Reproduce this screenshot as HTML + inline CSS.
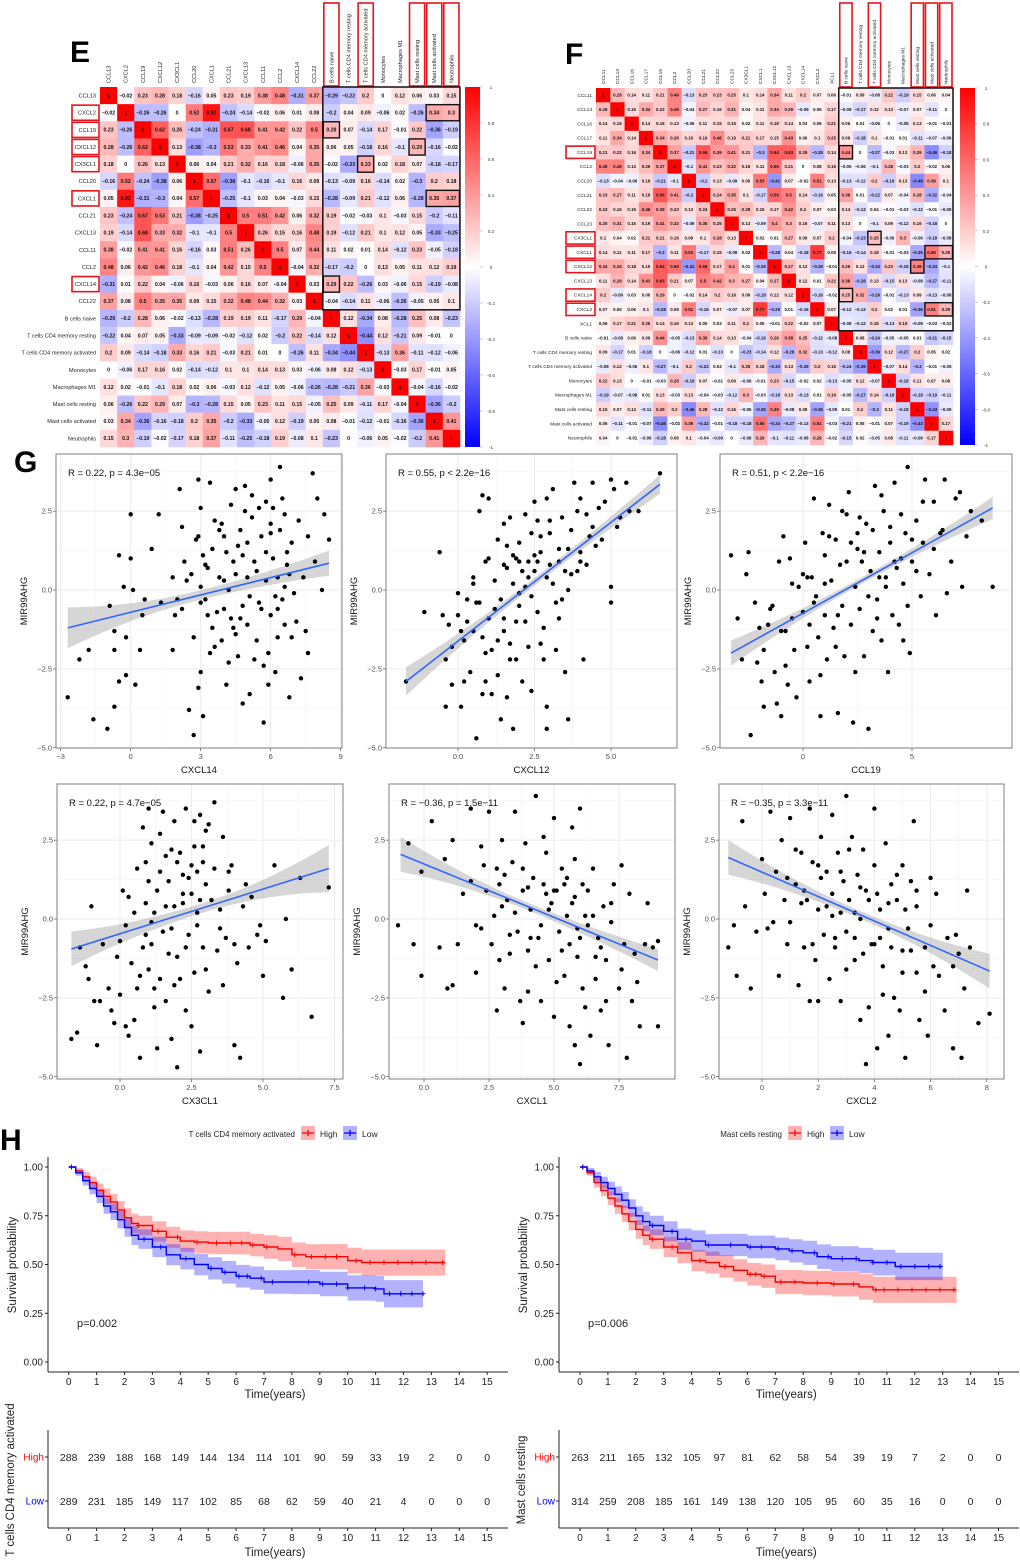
<!DOCTYPE html>
<html><head><meta charset="utf-8"><style>
html,body{margin:0;padding:0;background:#fff}
svg{display:block;font-family:"Liberation Sans",Arial,sans-serif}
</style></head><body>
<svg id="fig" width="1020" height="1563" viewBox="0 0 1020 1563" xmlns="http://www.w3.org/2000/svg">
<defs>
<linearGradient id="cbar" x1="0" y1="0" x2="0" y2="1">
<stop offset="0" stop-color="#ff0000"/><stop offset="0.5" stop-color="#ffffff"/><stop offset="1" stop-color="#0000ff"/>
</linearGradient>
</defs>
<text x="70" y="62" font-size="30" font-weight="bold">E</text>
<text x="565" y="64" font-size="30" font-weight="bold">F</text>
<text x="14" y="472" font-size="30" font-weight="bold">G</text>
<text x="0" y="1150" font-size="30" font-weight="bold">H</text>
<g id="heatE"></g>
<g id="heatF"></g>
<g id="scat"></g>
<g id="surv"></g>
</svg>
<script>
// ===== Heatmap E data =====
const eLabels=["CCL13","CXCL2","CCL19","CXCL12","CX3CL1","CCL20","CXCL1","CCL21","CXCL13","CCL11","CCL2","CXCL14","CCL22","B cells naive","T cells CD4 memory resting","T cells CD4 memory activated","Monocytes","Macrophages M1","Mast cells resting","Mast cells activated","Neutrophils"];
const eValues=[
[1,-0.02,0.23,0.28,0.18,-0.16,0.05,0.23,0.19,0.38,0.48,-0.31,0.37,-0.29,-0.22,0.2,0,0.12,0.06,0.03,0.15],
[-0.02,1,-0.26,-0.26,0,0.52,0.92,-0.24,-0.14,-0.02,0.06,0.01,0.08,-0.2,0.04,0.09,-0.06,0.02,-0.26,0.34,0.3],
[0.23,-0.26,1,0.62,0.26,-0.24,-0.31,0.67,0.68,0.41,0.42,0.22,0.5,0.28,0.07,-0.14,0.17,-0.01,0.22,-0.36,-0.19],
[0.28,-0.26,0.62,1,0.13,-0.38,-0.3,0.53,0.33,0.41,0.46,0.04,0.35,0.06,0.05,-0.18,0.16,-0.1,0.29,-0.16,-0.02],
[0.18,0,0.26,0.13,1,0.06,0.04,0.21,0.32,0.16,0.18,-0.06,0.35,-0.02,-0.33,0.33,0.02,0.18,0.07,-0.18,-0.17],
[-0.16,0.52,-0.24,-0.38,0.06,1,0.57,-0.38,-0.1,-0.16,-0.1,0.16,0.09,-0.13,-0.09,0.16,-0.14,0.02,-0.3,0.2,0.18],
[0.05,0.92,-0.31,-0.3,0.04,0.57,1,-0.25,-0.1,0.03,0.04,-0.03,0.15,-0.28,-0.09,0.21,-0.12,0.06,-0.28,0.35,0.37],
[0.23,-0.24,0.67,0.53,0.21,-0.38,-0.25,1,0.5,0.51,0.42,0.06,0.32,0.19,-0.02,-0.03,0.1,-0.03,0.15,-0.2,-0.11],
[0.19,-0.14,0.68,0.33,0.32,-0.1,-0.1,0.5,1,0.26,0.15,0.16,0.48,0.19,-0.12,0.21,0.1,0.12,0.05,-0.33,-0.25],
[0.38,-0.02,0.41,0.41,0.16,-0.16,0.03,0.51,0.26,1,0.5,0.07,0.44,0.11,0.02,0.01,0.14,-0.12,0.23,-0.05,-0.18],
[0.48,0.06,0.42,0.46,0.18,-0.1,0.04,0.42,0.15,0.5,1,-0.04,0.32,-0.17,-0.2,0,0.13,0.05,0.11,0.12,0.19],
[-0.31,0.01,0.22,0.04,-0.06,0.16,-0.03,0.06,0.16,0.07,-0.04,1,0.03,0.29,0.22,-0.26,0.03,-0.06,0.15,-0.19,-0.08],
[0.37,0.08,0.5,0.35,0.35,0.09,0.15,0.32,0.48,0.44,0.32,0.03,1,-0.04,-0.14,0.11,-0.06,-0.26,-0.05,0.05,0.1],
[-0.29,-0.2,0.28,0.06,-0.02,-0.13,-0.28,0.19,0.19,0.11,-0.17,0.29,-0.04,1,0.12,-0.34,0.08,-0.28,0.25,0.08,-0.23],
[-0.22,0.04,0.07,0.05,-0.33,-0.09,-0.09,-0.02,-0.12,0.02,-0.2,0.22,-0.14,0.12,1,-0.44,0.12,-0.21,0.09,-0.01,0],
[0.2,0.09,-0.14,-0.18,0.33,0.16,0.21,-0.03,0.21,0.01,0,-0.26,0.11,-0.34,-0.44,1,-0.13,0.36,-0.11,-0.12,-0.06],
[0,-0.06,0.17,0.16,0.02,-0.14,-0.12,0.1,0.1,0.14,0.13,0.03,-0.06,0.08,0.12,-0.13,1,-0.03,0.17,-0.01,0.05],
[0.12,0.02,-0.01,-0.1,0.18,0.02,0.06,-0.03,0.12,-0.12,0.05,-0.06,-0.26,-0.28,-0.21,0.36,-0.03,1,-0.04,-0.16,-0.02],
[0.06,-0.26,0.22,0.29,0.07,-0.3,-0.28,0.15,0.05,0.23,0.11,0.15,-0.05,0.25,0.09,-0.11,0.17,-0.04,1,-0.36,-0.2],
[0.03,0.34,-0.36,-0.16,-0.18,0.2,0.35,-0.2,-0.33,-0.05,0.12,-0.19,0.05,0.08,-0.01,-0.12,-0.01,-0.16,-0.36,1,0.41],
[0.15,0.3,-0.19,-0.02,-0.17,0.18,0.37,-0.11,-0.25,-0.18,0.19,-0.08,0.1,-0.23,0,-0.06,0.05,-0.02,-0.2,0.41,1]];
const eRowBoxes=[1,2,3,4,6,11];
const eColBoxes=[13,15,18,19,20];
const eCellBoxes=[[2,13,1],[3,18,1],[4,15,1],[1,19,2],[6,19,2],[11,13,1]];
// ===== Heatmap F data =====
const fLabels=["CCL11","CCL13","CCL16","CCL17","CCL19","CCL2","CCL20","CCL21","CCL22","CCL23","CX3CL1","CXCL1","CXCL12","CXCL13","CXCL14","CXCL2","XCL1","B cells naive","T cells CD4 memory resting","T cells CD4 memory activated","Monocytes","Macrophages M1","Mast cells resting","Mast cells activated","Neutrophils"];
const fValues=[
[1,0.28,0.14,0.11,0.21,0.49,-0.13,0.23,0.23,0.25,0.1,0.14,0.34,0.11,0.2,0.07,0.06,-0.01,0.09,-0.08,0.22,-0.19,0.15,0.06,0.04],
[0.28,1,0.15,0.34,0.22,0.49,-0.04,0.27,0.16,0.31,0.04,0.11,0.34,0.29,-0.09,0.05,0.17,-0.08,-0.17,0.12,0.13,-0.07,0.07,-0.11,0],
[0.14,0.15,1,0.14,0.16,0.13,-0.06,0.11,0.15,0.15,0.02,0.11,0.18,0.14,0.03,0.06,0.21,0.06,0.01,-0.06,0,-0.08,0.13,-0.01,-0.01],
[0.11,0.34,0.14,1,0.34,0.26,0.16,0.19,0.46,0.19,0.21,0.17,0.15,0.43,0.06,0.1,0.25,0.09,-0.18,0.1,-0.01,0.01,-0.11,-0.07,-0.06],
[0.21,0.22,0.16,0.34,1,0.37,-0.21,0.66,0.39,0.41,0.21,-0.3,0.64,0.63,0.29,-0.28,0.14,0.44,0,-0.27,-0.03,0.13,0.29,-0.46,-0.18],
[0.49,0.49,0.13,0.26,0.37,1,-0.1,0.41,0.23,0.32,0.16,0.11,0.56,0.21,0,0.08,0.16,-0.05,-0.06,-0.1,0.28,-0.03,0.2,-0.02,0.06],
[-0.13,-0.04,-0.06,0.16,-0.21,-0.1,1,-0.2,0.13,-0.09,0.09,0.53,-0.41,0.07,-0.02,0.51,0.13,-0.13,-0.12,0.2,-0.19,0.13,-0.46,0.39,0.1],
[0.23,0.27,0.11,0.19,0.66,0.41,-0.2,1,0.24,0.35,0.1,-0.17,0.59,0.5,0.14,-0.16,0.05,0.36,0.01,-0.22,0.07,-0.04,0.28,-0.32,-0.04],
[0.23,0.16,0.15,0.46,0.39,0.23,0.13,0.24,1,0.25,0.28,0.15,0.17,0.42,0.2,0.07,0.03,0.14,-0.13,0.04,-0.01,-0.03,-0.12,-0.01,-0.09],
[0.25,0.31,0.15,0.19,0.41,0.32,-0.09,0.35,0.25,1,0.13,-0.09,0.4,0.3,0.16,-0.07,0.11,0.13,0,-0.1,0.09,-0.12,0.16,-0.18,0],
[0.1,0.04,0.02,0.21,0.21,0.16,0.09,0.1,0.28,0.13,1,0.02,0.01,0.27,0.09,0.07,0.2,-0.04,-0.23,0.25,-0.06,0.3,-0.06,-0.18,-0.08],
[0.14,0.11,0.11,0.17,-0.3,0.11,0.53,-0.17,0.15,-0.09,0.02,1,-0.28,0.04,-0.18,0.77,0.05,-0.16,-0.14,0.18,-0.01,-0.03,-0.35,0.55,0.29],
[0.34,0.34,0.18,0.15,0.64,0.56,-0.41,0.59,0.17,0.4,0.01,-0.28,1,0.27,0.12,-0.29,-0.01,0.26,0.12,-0.33,0.23,-0.18,0.49,-0.34,-0.1],
[0.11,0.29,0.14,0.43,0.63,0.21,0.07,0.5,0.42,0.3,0.27,0.04,0.27,1,0.12,0.01,0.22,0.38,-0.28,0.13,-0.15,0.13,-0.08,-0.27,-0.11],
[0.2,-0.09,0.03,0.06,0.29,0,-0.02,0.14,0.2,0.16,0.09,-0.18,0.12,0.12,1,-0.16,-0.02,0.25,0.32,-0.29,-0.02,-0.13,0.09,-0.13,-0.08],
[0.07,0.05,0.06,0.1,-0.28,0.08,0.51,-0.16,0.07,-0.07,0.07,0.77,-0.29,0.01,-0.16,1,0.07,-0.12,-0.13,0.2,0.02,0.01,-0.36,0.51,0.29],
[0.06,0.17,0.21,0.25,0.14,0.16,0.13,0.05,0.03,0.11,0.2,0.05,-0.01,0.22,-0.02,0.07,1,-0.08,-0.12,0.15,-0.13,0.19,-0.09,-0.03,-0.02],
[-0.01,-0.08,0.06,0.09,0.44,-0.05,-0.13,0.36,0.14,0.13,-0.04,-0.16,0.26,0.38,0.25,-0.12,-0.08,1,0.08,-0.24,-0.05,-0.05,0.01,-0.21,-0.15],
[0.09,-0.17,0.01,-0.18,0,-0.06,-0.12,0.01,-0.13,0,-0.23,-0.14,0.12,-0.28,0.32,-0.13,-0.12,0.08,1,-0.39,0.12,-0.27,0.2,0.05,0.02],
[-0.08,0.12,-0.06,0.1,-0.27,-0.1,0.2,-0.22,0.04,-0.1,0.25,0.18,-0.33,0.13,-0.29,0.2,0.15,-0.24,-0.39,1,-0.07,0.14,-0.3,-0.01,-0.05],
[0.22,0.13,0,-0.01,-0.03,0.28,-0.19,0.07,-0.01,0.09,-0.06,-0.01,0.23,-0.15,-0.02,0.02,-0.13,-0.05,0.12,-0.07,1,-0.18,0.11,0.07,0.08],
[-0.19,-0.07,-0.08,0.01,0.13,-0.03,0.13,-0.04,-0.03,-0.12,0.3,-0.03,-0.18,0.13,-0.13,0.01,0.19,-0.05,-0.27,0.14,-0.18,1,-0.18,-0.19,-0.11],
[0.15,0.07,0.13,-0.11,0.29,0.2,-0.46,0.28,-0.12,0.16,-0.06,-0.35,0.49,-0.08,0.09,-0.36,-0.09,0.01,0.2,-0.3,0.11,-0.18,1,-0.43,-0.09],
[0.06,-0.11,-0.01,-0.07,-0.46,-0.02,0.39,-0.32,-0.01,-0.18,-0.18,0.55,-0.34,-0.27,-0.13,0.51,-0.03,-0.21,0.05,-0.01,0.07,-0.19,-0.43,1,0.17],
[0.04,0,-0.01,-0.06,-0.18,0.06,0.1,-0.04,-0.09,0,-0.08,0.29,-0.1,-0.11,-0.08,0.29,-0.02,-0.15,0.02,-0.05,0.08,-0.11,-0.09,0.17,1]];
const fRowBoxes=[4,10,11,12,14,15];
const fColBoxes=[17,19,22,23,24];
const fCellBoxes=[[4,17,1],[10,19,1],[11,23,2],[12,22,1],[14,17,1],[15,23,2]];
const cbarTicks=["1","0.8","0.6","0.4","0.2","0","-0.2","-0.4","-0.6","-0.8","-1"];

// ===== Scatter data =====
const sNames=["CXCL14","CXCL12","CCL19","CX3CL1","CXCL1","CXCL2"];
const sStats=["R = 0.22, p = 4.3e\u221205","R = 0.55, p < 2.2e\u221216","R = 0.51, p < 2.2e\u221216","R = 0.22, p = 4.7e\u221205","R = \u22120.36, p = 1.5e\u221211","R = \u22120.35, p = 3.3e\u221211"];
const s1x=[-2.7,-2.2,-1.8,-1.6,-1,-0.9,-0.7,-0.7,-0.7,-0.5,-0.5,-0.3,-0.2,-0.2,0,0,0.1,0.2,0.4,0.5,0.6,0.9,1.2,1.3,1.8,1.8,1.9,2,2.1,2.2,2.3,2.5,2.6,2.7,2.7,2.8,2.9,2.9,3,3,3,3.1,3.2,3.3,3.4,3.5,3.6,3.8,3.9,4,4.1,4.2,4.3,4.4,4.5,4.5,4.6,4.7,4.8,4.9,5,5,5.1,5.2,5.3,5.4,5.5,5.5,5.6,5.7,5.8,5.9,6,6,6,6.1,6.2,6.3,6.4,6.5,6.6,6.6,6.7,6.8,6.9,7,7.2,7.3,7.4,7.6,7.6,7.8,8,8.2,8.3,8.5,5.2,4.2,3.7,6.3,5.8,4.8,3.1,6.5,4];
const s1y=[-3.4,-2.2,-1.9,-4.1,-4.4,-0.5,-1.9,-3.7,-1.3,1.1,-2.9,0.1,-1.5,-2.7,2.4,1,0,-3,-1.9,-0.8,-0.3,1.3,2.4,-0.4,0.4,-1.9,-0.8,-0.3,3.2,2,0.9,-3.8,0.5,-1.5,-4.6,1.6,3.5,-3.1,2.6,-2.6,0.1,1.1,-0.3,-0.8,3.4,1.3,-1.8,0.4,2.1,-0.6,1.2,-2.3,2.7,-1.2,3.2,0.5,-2.1,1.9,-0.5,3.3,-1.1,1.5,-3.3,2.3,0.9,-1.6,2.6,-0.4,1.7,-4.2,0.3,-2,3.5,2.1,-0.8,1,-2.6,0.4,3.9,-0.3,2.4,-1.1,0.8,-3.4,1.5,-0.1,2.2,-2.8,0.4,1.7,-2,3.7,2.9,0,2.4,1.6,3,0,-0.7,-1.5,1.2,-3.6,-4,2.9,1.7];
const s1xb=[3.2,3.5,3.8,4.0,4.3,4.6,4.9,5.1,5.4,5.7,6.0,6.3,6.6,6.9,3.4,3.9,4.4,4.8,5.3,5.8,6.2,6.7,7.1,3.6,4.1,4.7,5.0,5.6,6.1,6.8,2.4,2.9,3.3,4.5,5.9,6.4,7.5,7.9,2.2,3.0];
const s1yb=[0.8,-1.2,1.9,0.3,-0.9,1.4,2.5,-0.2,0.6,-2.4,1.8,-0.6,0.1,-1.5,-2.0,-1.6,0.9,1.1,-2.2,2.8,-0.2,1.2,-1.0,2.2,-3.0,-0.9,0.4,-0.6,2.6,0.5,0.3,1.7,0.7,-1.4,-3.0,1.9,-1.3,0.9,-0.6,-0.4];
const s2x=[-1.7,-1.1,-0.6,-0.5,-0.4,-0.4,-0.3,-0.2,-0.2,0,0,0.1,0.2,0.2,0.3,0.4,0.5,0.5,0.6,0.7,0.7,0.8,0.8,0.9,0.9,1,1,1.1,1.1,1.2,1.3,1.3,1.4,1.4,1.5,1.5,1.5,1.6,1.7,1.7,1.8,1.8,1.9,1.9,2,2,2.1,2.2,2.2,2.3,2.4,2.4,2.5,2.5,2.6,2.7,2.8,2.9,2.9,2.9,3,3,3.1,3.2,3.3,3.4,3.5,3.6,3.6,3.7,3.8,3.9,4,4.1,4.2,4.3,4.4,4.5,4.6,4.7,5,5,5,5.1,5.3,5.5,5.6,5.9,6.6,5.2,3.3,2.6,1.6,2,4,3.1,2.8,2.3];
const s2y=[-2.9,-0.7,1.2,-0.8,-2.2,-3.7,-1.1,-1.8,-3,-0.8,-0.1,-3.7,-1.6,-2.9,-0.3,-2.6,0.4,-1.3,-4.7,-0.4,2.5,3,-1.5,0.9,-2.9,2.9,-0.9,-3.3,-1.9,0.3,1.6,-2.7,-4.1,-0.3,2.1,0.8,-1.3,-3.4,2.3,-2.2,0.2,-4.4,1,-1,1.5,-0.5,-2.9,2.4,0.1,-1.8,1.8,-3.2,0.6,2.8,-0.7,1.2,-1.2,0.4,-4.4,-3.7,2.2,1.8,3.2,-1.9,0.9,2.3,-2.6,1.3,-4.1,0.5,3.4,2.5,1.2,-2.2,0.8,1.7,3.4,1.4,2.6,1.6,3.5,0.1,-0.4,3.2,2.3,3.4,2.5,2.5,3.7,2,-0.9,0.9,0.7,-0.1,2.9,0.2,-2.2,0.9];
const s2xb=[0.3,0.6,0.9,1.2,1.5,1.8,2.1,2.4,2.7,3.0,3.3,3.6,3.9,4.2,0.5,1.0,1.6,2.2,2.6,3.2,3.7,4.4,1.3,1.9,2.5,2.9,3.4,4.0,0.1,0.8,1.7,2.3,3.5,4.8,2.0,2.7];
const s2yb=[-1.0,-0.4,-2.0,-0.6,-0.9,1.1,0.6,-0.2,1.7,0.8,1.3,0.0,0.6,2.4,0.2,1.0,1.4,-1.0,2.2,-0.4,1.9,2.0,-1.6,-2.2,1.1,2.9,-0.3,0.9,-1.3,-3.3,-1.7,0.4,0.6,2.8,0.9,-1.7];
const s3x=[-3.3,-3,-2.8,-2.6,-2.5,-2.4,-2.2,-2.1,-1.9,-1.8,-1.8,-1.6,-1.4,-1.3,-1.2,-1.1,-1,-0.9,-0.8,-0.7,-0.6,-0.5,-0.4,-0.3,-0.2,0,0.1,0.2,0.3,0.4,0.5,0.6,0.7,0.8,0.9,1,1.1,1.2,1.3,1.4,1.5,1.6,1.7,1.8,1.9,2,2.1,2.2,2.3,2.4,2.5,2.6,2.7,2.8,2.9,3,3.1,3.2,3.3,3.4,3.5,3.6,3.7,3.8,3.9,4,4.1,4.2,4.3,4.4,4.5,4.6,4.7,4.8,4.9,5,5.2,5.4,5.5,5.6,5.8,6,6.1,6.3,6.5,6.6,6.8,7.2,7.3,7.5,7.7,8.2,8.7,1,2.6,3.4,4.6,0.2];
const s3y=[1.1,-0.9,-2.2,0.5,1.2,-4.6,-0.4,-2.3,-2.9,-1.9,-3.7,-1.1,-0.5,-2.6,-3.6,0.9,-4,1.7,-1.3,-3,1,0.2,-1.9,-3.4,0.1,-0.7,1.5,-1.8,-2.9,0.4,2.9,-0.2,-1.5,-4,1.8,-0.8,-2.2,2.7,0.3,-1.2,1.6,-3.9,0.8,-0.5,-2.1,2.4,3.1,-1.1,-4.2,0.1,1.3,-0.6,0.9,-2.1,2.1,-4.4,0.6,1.9,3.3,-0.3,1.2,-1.6,2.5,0.4,-2.6,1.5,-0.8,3.4,0.7,-1.1,2.4,0.2,1.8,3.9,-2,0.9,2.2,-0.2,1.5,3.5,0.5,2.8,-0.8,1.8,3.5,-0.1,0.9,3.1,0.1,1.7,2.5,2.2,0.1,1.1,2.3,-0.9,-1.6,0.4];
const s3xb=[-1.5,-1.0,-0.5,0.0,0.5,1.0,1.5,2.0,2.5,3.0,3.5,4.0,4.5,5.0,5.5,6.0,-0.8,0.3,1.2,2.2,3.2,4.2,5.2,0.8,1.8,2.8,3.8,4.8,-2.0,6.4,7.0,1.6,2.4,3.6];
const s3yb=[-0.6,-1.3,-0.9,0.5,-0.4,0.2,-1.8,0.9,1.8,-0.2,0.4,2.0,1.0,1.6,2.8,1.3,-2.4,-1.1,1.7,1.5,-1.3,0.9,0.6,-2.7,2.5,1.2,0.1,-0.5,-1.2,1.9,2.9,-0.8,-2.6,3.0];
const s4x=[-1.7,-1.5,-1.4,-1.2,-1.1,-1,-0.9,-0.8,-0.7,-0.6,-0.4,-0.3,-0.2,-0.1,0,0,0.1,0.2,0.2,0.3,0.4,0.5,0.6,0.6,0.7,0.8,0.8,0.9,1,1,1.1,1.2,1.2,1.3,1.4,1.5,1.5,1.6,1.7,1.7,1.8,1.9,1.9,2,2,2.1,2.2,2.3,2.3,2.4,2.5,2.5,2.6,2.6,2.7,2.8,2.8,2.9,3,3,3.1,3.2,3.3,3.4,3.5,3.6,3.6,3.7,3.8,4,4,4.1,4.2,4.3,4.4,4.6,4.8,4.9,5.1,5.4,5.7,5.8,6,6.3,6.7,7.3,1.4,2.2,0.9,2.9,1.1,3.9];
const s4y=[-3.8,-3.6,-0.9,-1.5,-1.9,0.4,-2.6,-4,-2.6,-0.8,-2.2,-2.9,-3.3,-1.2,-0.7,-2.4,0.9,-3.4,-0.2,-3.7,-1.4,-3.2,1.6,-2.2,-4.4,2.9,-0.9,0.5,-1.6,3.5,2.4,-2.2,0.2,-4.1,1.5,-0.4,3.4,-2.6,1.2,-1.1,-3.8,3.1,0.4,-4.7,-1.2,2.1,0.8,-2.9,3.5,-0.5,1.7,-3.4,2.3,-1.7,0.2,3.3,-4.2,-0.9,1.1,2.8,-2.3,0.6,3.7,-1,0.3,2.6,-2.1,-0.6,1.5,-0.8,-4,-1.4,-4.4,0.4,1.1,0.7,-0.5,-0.2,-0.7,1.7,-2.5,0,-1.6,1.3,-3.1,1,-1.9,1.4,1.8,1.8,-0.1,1.7];
const s4xb=[0.5,0.9,1.3,1.6,1.8,2.1,2.4,2.7,3.0,3.3,1.0,1.4,1.9,2.2,2.6,2.9,3.5,0.7,1.2,2.0,2.5,3.1,4.5,0.3,1.6,2.3,2.8,1.1,1.8,2.7,3.8,5.0];
const s4yb=[0.2,-0.5,0.9,0.4,2.2,-1.9,1.3,-0.2,-1.6,1.6,1.2,2.7,-2.1,0.5,3.1,2.3,-0.3,-1.8,-2.8,1.8,0.8,3.0,-0.9,0.7,2.0,-0.9,0.6,-0.8,-0.3,1.5,0.9,-1.8];
const s5x=[-1,-0.6,-0.4,-0.1,-0.1,0.3,0.6,0.8,0.9,1.1,1.1,1.3,1.5,1.8,1.8,2,2,2.2,2.3,2.5,2.6,2.7,2.8,2.8,2.9,3,3.1,3.2,3.3,3.4,3.5,3.6,3.7,3.8,3.8,3.9,4,4.1,4.2,4.3,4.4,4.5,4.6,4.7,4.8,4.9,5,5,5.1,5.2,5.3,5.4,5.5,5.6,5.7,5.8,5.8,5.9,6,6,6.1,6.2,6.3,6.4,6.5,6.6,6.7,6.8,6.9,7,7.1,7.2,7.3,7.5,7.6,7.7,7.8,7.9,8,8.1,8.3,8.5,8.6,8.8,9,9,4.7,5.4,6.2,3,4.1,5.7];
const s5y=[-0.2,2.4,-0.8,1.5,-1.8,3.1,-0.9,1.9,-2.2,2.5,-2.1,-0.8,0.8,1.2,3.5,-1.7,-0.2,2.3,1.7,3.4,-0.8,0.1,-2.9,1.6,-1.3,2.5,-2.2,0.6,-1.1,1.8,3.4,-0.4,-2.6,0.9,-3.3,2.4,-1,0.3,1.3,3.9,-0.6,-2.6,1.1,2.1,-1.3,0.5,-3.1,3.2,0.9,-0.4,1.6,-1.8,0.1,-3.4,2.9,-4,0.7,-1.2,-4.6,3.5,1.1,-2.8,-0.2,-3.7,1.6,-1.9,-0.6,-2.9,0.4,-1.3,-4,-0.1,1.1,-2.2,1.7,-0.8,-4.4,0.8,-2.6,-1.1,-3.4,-0.8,0.5,-0.9,-3.4,-0.7,0.8,1.1,0.1,0.4,-0.6,0.5];
const s5xb=[3.5,4.0,4.5,5.0,5.5,6.0,6.5,3.8,4.3,4.8,5.3,5.8,6.3,6.8,2.4,2.9,3.3,7.2,7.6,4.6,5.1,5.6,6.1,3.1,4.0,5.9,6.6,2.2,8.2,7.0];
const s5yb=[0.2,1.0,-0.2,0.9,1.3,-0.6,0.1,1.6,-1.5,0.3,-1.0,1.9,0.9,-0.9,0.9,1.1,-0.5,0.5,-1.6,2.6,-2.0,-0.8,-2.2,1.4,-2.3,-0.3,-1.2,-0.3,-2.0,-2.6];
const s6x=[-1.2,-1,-0.9,-0.7,-0.6,-0.4,-0.2,0,0.1,0.2,0.3,0.4,0.5,0.6,0.7,0.8,0.9,1,1,1.2,1.3,1.4,1.5,1.6,1.7,1.7,1.8,1.9,2,2,2.1,2.2,2.3,2.4,2.5,2.5,2.6,2.7,2.8,2.8,2.9,3,3,3.1,3.2,3.3,3.4,3.5,3.5,3.6,3.7,3.7,3.8,3.9,4,4,4.1,4.2,4.3,4.4,4.5,4.5,4.6,4.7,4.8,4.9,5,5,5.1,5.2,5.3,5.4,5.5,5.5,5.6,5.8,5.9,6,6.1,6.2,6.5,6.6,6.8,6.9,7,7.1,7.2,7.3,7.7,8.1,3.3,4.2,2.1,1.4];
const s6y=[-0.9,-0.2,-1.8,3.1,0.4,-2.2,-0.4,1.9,0.8,-0.3,3.4,-0.1,1.5,-1.8,2.5,0.6,-0.8,3.2,-0.1,1.1,-2.1,2.1,-0.9,0.6,3.5,-2.6,1.8,-1.3,0.3,-2.6,2.6,-0.5,1.5,-1.9,3.3,0.8,-0.9,2.1,-2.6,0.2,1.2,3.9,-1.6,0.6,2.6,-0.6,1.4,-3.2,0,2.2,-4.6,0.9,-2.8,-0.8,1.7,3.5,-4.1,0.3,-1.5,2.4,-3.7,-0.3,1.1,-2.5,0.6,-2.9,-1,1.7,-4.4,-0.3,1.2,3.1,-1.7,0.4,-3.2,-0.9,-3.7,1.3,-1.5,0.8,-2.9,-0.6,-4.1,-0.5,-1.1,-4.4,-2.2,0.9,-3.3,-3,0.2,-0.6,1.3,0.5];
const s6xb=[1.5,2.0,2.5,3.0,3.5,4.0,4.5,5.0,5.5,6.0,1.8,2.3,2.8,3.3,3.8,4.3,4.8,5.3,5.8,2.6,3.1,3.6,4.1,4.6,5.1,0.9,1.2,6.3,6.8,7.4];
const s6yb=[0.9,1.7,0.1,-0.4,1.0,-0.8,0.5,-1.7,0.9,-0.2,-0.8,0.4,1.5,-1.3,0.6,-2.4,1.4,-1.0,-2.3,-0.6,2.2,-1.1,0.8,-0.9,0.3,1.3,2.2,-1.8,-1.5,-0.9];
const sFitX=[[-2.7,8.5],[-1.7,6.6],[-3.3,8.7],[-1.7,7.3],[-0.9,9],[-1.2,8.1]];
const sFitY=[[-1.2,0.85],[-2.9,3.35],[-2.0,2.6],[-0.95,1.6],[2.05,-1.3],[1.95,-1.65]];
const sBand=[[0.65,0.15,0.4],[0.45,0.12,0.3],[0.4,0.1,0.35],[0.55,0.15,0.75],[0.55,0.12,0.35],[0.55,0.12,0.55]];
const sXTicks=[[-3,0,3,6,9],[0,2.5,5],[0,5],[0,2.5,5,7.5],[0,2.5,5,7.5],[0,2,4,6,8]];
const sXTickLabels=[["-3","0","3","6","9"],["0.0","2.5","5.0"],["0","5"],["0.0","2.5","5.0","7.5"],["0.0","2.5","5.0","7.5"],["0","2","4","6","8"]];
const sYTicks=[2.5,0,-2.5,-5];
const sYTickLabels=["2.5","0.0","-2.5","-5.0"];

// ===== Survival data =====
const survTitles=["T cells CD4 memory activated","Mast cells resting"];
const survP=["p=0.002","p=0.006"];
const hiT=[[0,0.25,0.5,0.75,1,1.25,1.5,1.75,2,2.25,2.5,3,3.5,4,4.5,5,6,6.5,7,7.5,8,8.5,9,10,10.5,13.5],[0,0.25,0.5,0.75,1,1.25,1.5,1.75,2,2.25,2.5,3,3.5,4,4.5,5,5.5,6,6.5,7,8,9,10,10.5,13.5]];
const hiS=[[1,0.98,0.95,0.92,0.88,0.85,0.82,0.78,0.74,0.71,0.70,0.67,0.64,0.62,0.615,0.61,0.61,0.60,0.59,0.58,0.55,0.54,0.54,0.52,0.51,0.51],[1,0.97,0.92,0.88,0.84,0.80,0.76,0.72,0.68,0.65,0.63,0.59,0.56,0.52,0.51,0.49,0.47,0.45,0.44,0.41,0.405,0.40,0.385,0.37,0.37]];
const hiBand=[[0,0.015,0.025,0.03,0.035,0.04,0.042,0.045,0.048,0.05,0.05,0.052,0.054,0.055,0.056,0.057,0.058,0.058,0.06,0.062,0.063,0.064,0.065,0.066,0.067,0.067],[0,0.015,0.025,0.03,0.035,0.04,0.042,0.045,0.048,0.05,0.05,0.052,0.054,0.055,0.056,0.057,0.057,0.058,0.06,0.062,0.063,0.064,0.066,0.067,0.067]];
const loT=[[0,0.25,0.5,0.75,1,1.25,1.5,1.75,2,2.25,2.5,3,3.5,4,4.5,5,5.5,6,6.5,7,8,9,10,11,11.3,12.7],[0,0.25,0.5,0.75,1,1.25,1.5,1.75,2,2.25,2.5,3,3.5,4,4.5,5,6,7,7.5,8,8.5,9,10,10.5,11.3,13]];
const loS=[[1,0.97,0.93,0.89,0.85,0.80,0.77,0.73,0.69,0.65,0.63,0.59,0.55,0.53,0.50,0.48,0.46,0.44,0.43,0.41,0.41,0.40,0.38,0.375,0.35,0.35],[1,0.98,0.95,0.92,0.89,0.86,0.83,0.79,0.75,0.72,0.70,0.67,0.63,0.62,0.60,0.60,0.59,0.58,0.57,0.56,0.54,0.53,0.52,0.51,0.49,0.49]];
const loBand=[[0,0.015,0.025,0.03,0.035,0.04,0.042,0.045,0.048,0.05,0.05,0.052,0.054,0.055,0.056,0.057,0.058,0.058,0.06,0.06,0.062,0.063,0.065,0.066,0.07,0.07],[0,0.015,0.025,0.03,0.035,0.04,0.042,0.045,0.048,0.05,0.05,0.052,0.054,0.055,0.056,0.057,0.058,0.058,0.06,0.062,0.063,0.064,0.065,0.066,0.07,0.07]];
const hiCens=[[0.1,2.5,3.2,3.9,4.6,5.3,5.8,6.2,6.6,7.1,8.1,8.7,9.2,9.6,10.3,10.8,11.3,11.8,12.3,12.8,13.4],[0.1,2.6,3.3,4.3,5.2,6.1,6.3,6.6,7.2,7.7,8.5,9.1,9.8,10.6,10.9,11.4,11.9,12.4,12.9,13.4]];
const loCens=[[0.1,2.7,3.3,4.2,5.1,5.6,6.1,6.4,6.9,7.3,8.6,9.1,9.6,10,10.6,11,11.5,11.9,12.3,12.7],[0.1,2.6,3.3,3.8,4.6,5.4,6.1,6.5,7.1,7.6,8.4,8.9,9.4,9.9,10.5,11,11.5,12,12.5,12.9]];
const timeTicks=[0,1,2,3,4,5,6,7,8,9,10,11,12,13,14,15];
const survTicks=[1,0.75,0.5,0.25,0];
const survTickLabels=["1.00","0.75","0.50","0.25","0.00"];
const riskHigh=[[288,239,188,168,149,144,134,114,101,90,59,33,19,2,0,0],[263,211,165,132,105,97,81,62,58,54,39,19,7,2,0,0]];
const riskLow=[[289,231,185,149,117,102,85,68,62,59,40,21,4,0,0,0],[314,259,208,185,161,149,138,120,105,95,60,35,16,0,0,0]];

const NS="http://www.w3.org/2000/svg";
function mk(tag,attrs,parent,txt){const e=document.createElementNS(NS,tag);for(const k in attrs)e.setAttribute(k,attrs[k]);if(txt!==undefined)e.textContent=txt;parent.appendChild(e);return e;}
function col(v){if(v>=0){const c=Math.round(255*(1-v));return `rgb(255,${c},${c})`;}const c=Math.round(255*(1+v));return `rgb(${c},${c},255)`;}

function heat(g,labels,values,x0,y0,cs,fs,lfs,rowBoxes,colBoxes,cellBoxes,nGenes,cbx,lblLeft){
  const n=labels.length;
  values.forEach((row,i)=>row.forEach((v,j)=>{
    const r=mk('rect',{x:x0+j*cs,y:y0+i*cs,width:cs+0.3,height:cs+0.3,fill:col(v)},g);
    
    
    const t=mk('text',{x:x0+j*cs+cs/2,y:y0+i*cs+cs/2+fs*0.35,'font-size':fs,'text-anchor':'middle','font-weight':'bold',fill:'#111'},g,String(v).replace('-','\u2212'));
    
    
  }));
  labels.forEach((l,i)=>{
    const t=mk('text',{x:x0-4,y:y0+i*cs+cs/2+lfs*0.35,'font-size':lfs,'text-anchor':'end',fill:'#222'},g,l);
    
    
    const cx=x0+i*cs+cs/2+lfs*0.35;
    const c=mk('text',{x:cx,y:y0-4,'font-size':lfs,'text-anchor':'start',fill:'#222',transform:`rotate(-90 ${cx} ${y0-4})`},g,l);
    
    
  });
  rowBoxes.forEach(i=>{const b=mk('rect',{x:lblLeft,y:y0+i*cs+1,width:x0-lblLeft-1,height:cs-2,fill:'none',stroke:'#e8141b','stroke-width':1.6},g);
    });
  colBoxes.forEach(j=>{const b=mk('rect',{x:x0+j*cs+1,y:3,width:cs-2,height:y0-4,fill:'none',stroke:'#e8141b','stroke-width':1.6},g);
    });
  const br=mk('rect',{x:x0+nGenes*cs,y:y0,width:(n-nGenes)*cs,height:nGenes*cs,fill:'none',stroke:'#111','stroke-width':1.5},g);
  
  cellBoxes.forEach(([i,j,w])=>{const b=mk('rect',{x:x0+j*cs+0.5,y:y0+i*cs+0.5,width:w*cs-1,height:cs-1,fill:'none',stroke:'#111','stroke-width':1.4},g);
    });
  const H=n*cs;
  const cb=mk('rect',{x:cbx,y:y0,width:15,height:H,fill:'url(#cbar)'},g);
  
  cbarTicks.forEach((t,k)=>{const yy=y0+k*H/10;
    const tt=mk('text',{x:cbx+26,y:yy+2,'font-size':4.5,'text-anchor':'middle',fill:'#333'},g,t);
    
    mk('line',{x1:cbx+15,x2:cbx+18,y1:yy,y2:yy,stroke:'#999','stroke-width':0.5},g);});
}
heat(document.getElementById('heatE'),eLabels,eValues,100,87,17.14,5.2,5.6,eRowBoxes,eColBoxes,eCellBoxes,13,465,72);
heat(document.getElementById('heatF'),fLabels,fValues,596,88,14.28,4.4,4.8,fRowBoxes,fColBoxes,fCellBoxes,17,960,566);

// ===== Scatter panels =====
const panels=[
 {fx0:56,fx1:342,fy0:454,fy1:748,x0:130.7,xs:23.33,yz:590},
 {fx0:386,fx1:677,fy0:454,fy1:748,x0:458,xs:30.6,yz:590},
 {fx0:720,fx1:1012,fy0:454,fy1:748,x0:803,xs:21.8,yz:590},
 {fx0:57,fx1:343,fy0:784,fy1:1079,x0:120,xs:28.6,yz:919},
 {fx0:389,fx1:675,fy0:784,fy1:1079,x0:424,xs:26,yz:919},
 {fx0:719,fx1:1004,fy0:784,fy1:1079,x0:762,xs:28.1,yz:919}];
const sX=[s1x.concat(s1xb),s2x.concat(s2xb),s3x.concat(s3xb),s4x.concat(s4xb),s5x.concat(s5xb),s6x.concat(s6xb)];
const sY=[s1y.concat(s1yb),s2y.concat(s2yb),s3y.concat(s3yb),s4y.concat(s4yb),s5y.concat(s5yb),s6y.concat(s6yb)];
const YS=31.55;
const sg=document.getElementById('scat');
panels.forEach((p,k)=>{
  const g=mk('g',{},sg);
  
  
  const X=v=>p.x0+v*p.xs, Y=v=>p.yz-v*YS;
  mk('rect',{x:p.fx0,y:p.fy0,width:p.fx1-p.fx0,height:p.fy1-p.fy0,fill:'#fff'},g);
  sXTicks[k].forEach((t,i)=>{ if(i<sXTicks[k].length-1){const m=(t+sXTicks[k][i+1])/2; mk('line',{x1:X(m),x2:X(m),y1:p.fy0,y2:p.fy1,stroke:'#f3f3f3','stroke-width':0.6},g);} });
  [3.75,1.25,-1.25,-3.75].forEach(t=>mk('line',{x1:p.fx0,x2:p.fx1,y1:Y(t),y2:Y(t),stroke:'#f3f3f3','stroke-width':0.6},g));
  sXTicks[k].forEach((t,i)=>{const xx=X(t);
    if(xx>p.fx0&&xx<p.fx1) mk('line',{x1:xx,x2:xx,y1:p.fy0,y2:p.fy1,stroke:'#ebebeb','stroke-width':1},g);
    mk('line',{x1:xx,x2:xx,y1:p.fy1,y2:p.fy1+3,stroke:'#333','stroke-width':0.6},g);
    const t1=mk('text',{x:xx,y:p.fy1+11,'font-size':7.5,'text-anchor':'middle',fill:'#4d4d4d'},g,sXTickLabels[k][i].replace('-','\u2212'));
    });
  sYTicks.forEach((t,i)=>{const yy=Y(t);
    mk('line',{x1:p.fx0,x2:p.fx1,y1:yy,y2:yy,stroke:'#ebebeb','stroke-width':1},g);
    mk('line',{x1:p.fx0-3,x2:p.fx0,y1:yy,y2:yy,stroke:'#333','stroke-width':0.6},g);
    const t1=mk('text',{x:p.fx0-4,y:yy+2.5,'font-size':7.5,'text-anchor':'end',fill:'#4d4d4d'},g,sYTickLabels[i].replace('-','\u2212'));
    });
  const [xa,xb]=sFitX[k],[ya,yb]=sFitY[k],[wa,wm,wb]=sBand[k];
  const up=[],dn=[];
  for(let s=0;s<=20;s++){const f=s/20,xv=xa+(xb-xa)*f,yv=ya+(yb-ya)*f;
    const d=f<0.5?(0.5-f)*2:(f-0.5)*2, we=f<0.5?wa:wb, hw=wm+(we-wm)*d*d;
    up.push(X(xv).toFixed(1)+','+Y(yv+hw).toFixed(1)); dn.unshift(X(xv).toFixed(1)+','+Y(yv-hw).toFixed(1));}
  const band=mk('polygon',{points:up.concat(dn).join(' '),fill:'#999','fill-opacity':0.4},g);
  
  sX[k].forEach((xv,i)=>{const c=mk('circle',{cx:X(xv),cy:Y(sY[k][i]),r:2.2,fill:'#000'},g);
    });
  const ln=mk('line',{x1:X(xa),y1:Y(ya),x2:X(xb),y2:Y(yb),stroke:'#3366ff','stroke-width':1.6},g);
  
  mk('rect',{x:p.fx0,y:p.fy0,width:p.fx1-p.fx0,height:p.fy1-p.fy0,fill:'none',stroke:'#7f7f7f','stroke-width':1},g);
  const st=mk('text',{x:p.fx0+12,y:p.fy0+22,'font-size':9.5,fill:'#111'},g,sStats[k]);
  
  const xt=mk('text',{x:(p.fx0+p.fx1)/2,y:p.fy1+25,'font-size':9.5,'text-anchor':'middle',fill:'#111'},g,sNames[k]);
  
  const yx=p.fx0-29, yy=(p.fy0+p.fy1)/2;
  const yt=mk('text',{x:yx,y:yy,'font-size':9.5,'text-anchor':'middle',fill:'#111',transform:`rotate(-90 ${yx} ${yy})`},g,'MIR99AHG');
  
});

// ===== Survival =====
const sv=document.getElementById('surv');
[{ax:48,t0:68.7,lx:295},{ax:559,t0:580,lx:782}].forEach((P,k)=>{
  const g=mk('g',{},sv);
  
  
  const X=t=>P.t0+t*27.9, Y=s=>1362-s*195;
  function stepPts(T,S){const pts=[];T.forEach((t,i)=>{if(i>0)pts.push([X(t),Y(S[i-1])]);pts.push([X(t),Y(S[i])]);});return pts;}
  function bandPoly(T,S,B,color){
    const u=[];T.forEach((t,i)=>{if(i>0)u.push([X(t),Y(S[i-1]+B[i-1])]);u.push([X(t),Y(S[i]+B[i])]);});
    const d=[];T.forEach((t,i)=>{if(i>0)d.push([X(t),Y(S[i-1]-B[i-1])]);d.push([X(t),Y(S[i]-B[i])]);});
    const pts=u.concat(d.reverse()).map(p=>p[0].toFixed(1)+','+p[1].toFixed(1)).join(' ');
    const b=mk('polygon',{points:pts,fill:color,'fill-opacity':0.3},g);
    }
  bandPoly(hiT[k],hiS[k],hiBand[k],'#ff0000');
  bandPoly(loT[k],loS[k],loBand[k],'#0000ff');
  function curve(T,S,C,color,name){
    const pts=stepPts(T,S).map(p=>p[0].toFixed(1)+','+p[1].toFixed(1)).join(' ');
    const l=mk('polyline',{points:pts,fill:'none',stroke:color,'stroke-width':1.4},g);
    
    C.forEach(t=>{let s=S[0];for(let i=0;i<T.length;i++){if(T[i]<=t)s=S[i];}
      const x=X(t),y=Y(s);mk('path',{d:`M${x-2.5},${y}h5M${x},${y-2.5}v5`,stroke:color,'stroke-width':1},g);});
  }
  curve(hiT[k],hiS[k],hiCens[k],'#ff0000','survival-curve-high');
  curve(loT[k],loS[k],loCens[k],'#0000ff','survival-curve-low');
  mk('line',{x1:P.ax,x2:P.ax,y1:1157,y2:1372,stroke:'#222','stroke-width':1},g);
  mk('line',{x1:P.ax,x2:P.ax+460,y1:1372,y2:1372,stroke:'#222','stroke-width':1},g);
  survTicks.forEach((s,i)=>{mk('line',{x1:P.ax-3,x2:P.ax,y1:Y(s),y2:Y(s),stroke:'#222'},g);
    const t=mk('text',{x:P.ax-5,y:Y(s)+3.5,'font-size':10,'text-anchor':'end',fill:'#222'},g,survTickLabels[i]);
    });
  timeTicks.forEach(t=>{mk('line',{x1:X(t),x2:X(t),y1:1372,y2:1375,stroke:'#222'},g);
    const a=mk('text',{x:X(t),y:1385,'font-size':10,'text-anchor':'middle',fill:'#222'},g,String(t));
    
    mk('line',{x1:X(t),x2:X(t),y1:1528,y2:1531,stroke:'#222'},g);
    const b=mk('text',{x:X(t),y:1541,'font-size':10,'text-anchor':'middle',fill:'#222'},g,String(t));
    });
  const tt=mk('text',{x:X(7.5)-3,y:1398,'font-size':11.5,'text-anchor':'middle',fill:'#222'},g,'Time(years)');
  
  const yx=P.ax-32,yy=1265;
  const yt=mk('text',{x:yx,y:yy,'font-size':11.5,'text-anchor':'middle',fill:'#222',transform:`rotate(-90 ${yx} ${yy})`},g,'Survival probability');
  
  const pv=mk('text',{x:P.ax+29,y:1327,'font-size':11,fill:'#222'},g,survP[k]);
  
  const lt=mk('text',{x:P.lx,y:1137,'font-size':8,'text-anchor':'end',fill:'#222'},g,survTitles[k]);
  
  [['High','#ff0000',P.lx+6],['Low','#0000ff',P.lx+48]].forEach(([lab,c,x])=>{
    const lg=mk('g',{},g);
    mk('rect',{x:x,y:1126,width:14,height:14,fill:c,'fill-opacity':0.3},lg);
    mk('path',{d:`M${x+1},1133h12M${x+7},1130v6`,stroke:c,'stroke-width':1.3},lg);
    mk('text',{x:x+19,y:1137,'font-size':8.5,fill:'#222'},lg,lab);});
  mk('line',{x1:P.ax,x2:P.ax,y1:1430,y2:1528,stroke:'#222','stroke-width':1},g);
  mk('line',{x1:P.ax,x2:P.ax+460,y1:1528,y2:1528,stroke:'#222','stroke-width':1},g);
  [['High','#ff0000',1457,riskHigh[k]],['Low','#0000ff',1501,riskLow[k]]].forEach(([lab,c,y,arr])=>{
    mk('line',{x1:P.ax-3,x2:P.ax,y1:y,y2:y,stroke:'#222'},g);
    const l=mk('text',{x:P.ax-4,y:y+3.5,'font-size':10,'text-anchor':'end',fill:c},g,lab);
    
    arr.forEach((v,i)=>{const t=mk('text',{x:X(timeTicks[i]),y:y+4,'font-size':10.5,'text-anchor':'middle',fill:'#222'},g,String(v));
      });});
  const rt=mk('text',{x:X(7.5)-3,y:1556,'font-size':11.5,'text-anchor':'middle',fill:'#222'},g,'Time(years)');
  
  const rx=P.ax-34,ry=1480;
  const ry1=mk('text',{x:rx,y:ry,'font-size':11.5,'text-anchor':'middle',fill:'#222',transform:`rotate(-90 ${rx} ${ry})`},g,survTitles[k]);
  
});
</script>
</body></html>
